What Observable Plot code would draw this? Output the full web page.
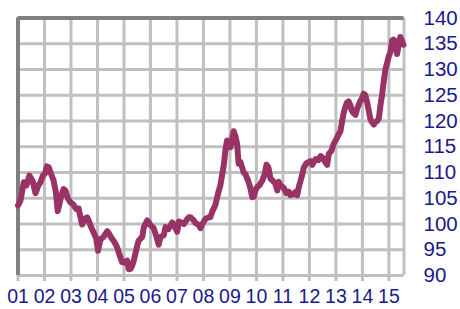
<!DOCTYPE html>
<html>
<head>
<meta charset="utf-8">
<script src="https://cdn.jsdelivr.net/npm/d3@7"></script>
<script src="https://cdn.jsdelivr.net/npm/@observablehq/plot@0.6"></script>
<style>
  html, body { margin: 0; padding: 0; background: #fff; }
  #chart { width: 460px; height: 309px; }
</style>
</head>
<body>
<div id="chart"></div>
<script>
// Decimal years and index values
const years = [
  2001.00, 2001.09, 2001.22, 2001.32, 2001.43, 2001.55, 2001.66, 2001.77, 2001.85, 2001.94,
  2002.02, 2002.09, 2002.16, 2002.25, 2002.34, 2002.43, 2002.50, 2002.57, 2002.63, 2002.72,
  2002.79, 2002.88, 2002.98, 2003.07, 2003.20, 2003.29, 2003.36, 2003.42, 2003.51, 2003.61,
  2003.68, 2003.76, 2003.85, 2003.95, 2004.02, 2004.11, 2004.23, 2004.37, 2004.45, 2004.55,
  2004.64, 2004.74, 2004.83, 2004.93, 2005.02, 2005.12, 2005.18, 2005.25, 2005.31, 2005.37,
  2005.50, 2005.56, 2005.69, 2005.75, 2005.88, 2006.00, 2006.12, 2006.23, 2006.31, 2006.38,
  2006.50, 2006.57, 2006.68, 2006.82, 2006.91, 2007.01, 2007.07, 2007.20, 2007.26, 2007.38,
  2007.45, 2007.51, 2007.62, 2007.70, 2007.82, 2007.89, 2007.96, 2008.08, 2008.19, 2008.26,
  2008.34, 2008.45, 2008.58, 2008.64, 2008.71, 2008.77, 2008.83, 2008.89, 2008.95, 2009.02,
  2009.08, 2009.14, 2009.21, 2009.27, 2009.33, 2009.40, 2009.46, 2009.52, 2009.58, 2009.68,
  2009.77, 2009.84, 2009.90, 2009.96, 2010.03, 2010.11, 2010.22, 2010.30, 2010.38, 2010.45,
  2010.53, 2010.60, 2010.72, 2010.79, 2010.84, 2010.91, 2011.03, 2011.13, 2011.22, 2011.28,
  2011.41, 2011.47, 2011.54, 2011.60, 2011.66, 2011.72, 2011.79, 2011.89, 2012.04, 2012.11,
  2012.23, 2012.34, 2012.42, 2012.51, 2012.60, 2012.67, 2012.73, 2012.83, 2012.92, 2013.02,
  2013.11, 2013.17, 2013.23, 2013.29, 2013.36, 2013.42, 2013.48, 2013.55, 2013.60, 2013.67,
  2013.74, 2013.80, 2013.89, 2013.99, 2014.05, 2014.11, 2014.17, 2014.24, 2014.30, 2014.36,
  2014.43, 2014.49, 2014.56, 2014.62, 2014.68, 2014.74, 2014.80, 2014.87, 2014.93, 2014.99,
  2015.06, 2015.12, 2015.17, 2015.25, 2015.31, 2015.36, 2015.43, 2015.50, 2015.55
];
const values = [
  103.6, 104.5, 108.1, 107.5, 109.4, 108.4, 106.0, 107.5, 108.1, 109.4,
  109.8, 111.2, 111.0, 109.7, 108.5, 106.2, 102.5, 104.0, 105.4, 106.8,
  106.5, 105.0, 104.2, 103.9, 102.9, 103.0, 101.3, 99.9, 101.0, 101.3,
  100.5, 99.4, 98.4, 97.2, 94.8, 97.0, 97.5, 98.6, 98.0, 97.1,
  96.5, 95.5, 94.0, 92.6, 92.5, 92.9, 91.2, 91.3, 91.9, 92.9,
  95.8, 96.8, 97.5, 99.4, 100.7, 99.8, 99.2, 97.5, 96.0, 97.5,
  97.8, 99.4, 99.0, 100.3, 99.6, 98.5, 100.5, 100.2, 100.0, 100.9,
  101.3, 101.3, 100.8, 100.2, 99.8, 99.2, 100.0, 101.0, 101.3, 101.3,
  102.5, 103.7, 106.5, 107.5, 109.7, 111.5, 114.3, 116.2, 115.0, 114.9,
  116.5, 118.0, 117.0, 115.5, 111.7, 112.0, 111.0, 110.0, 109.7, 108.5,
  107.0, 105.2, 105.3, 106.5, 107.2, 107.5, 108.4, 109.5, 111.5, 111.0,
  108.8, 108.5, 107.8, 106.5, 108.2, 107.5, 107.0, 106.0, 106.3, 105.6,
  105.8, 106.2, 105.6, 107.2, 108.3, 109.4, 111.0, 111.8, 112.2, 111.5,
  112.6, 112.4, 113.2, 112.8, 112.0, 111.5, 113.6, 114.2, 115.6, 116.5,
  117.5, 118.0, 119.8, 121.5, 122.8, 123.6, 123.8, 123.0, 122.0, 121.5,
  121.2, 122.4, 123.5, 124.5, 125.3, 125.0, 123.8, 122.0, 120.4, 119.8,
  119.3, 119.8, 120.0, 120.5, 123.0, 125.0, 127.5, 130.0, 131.2, 132.5,
  133.4, 135.6, 135.8, 135.5, 133.0, 134.5, 136.3, 135.5, 134.8
];
const xTicks = [2001, 2002, 2003, 2004, 2005, 2006, 2007, 2008, 2009, 2010, 2011, 2012, 2013, 2014, 2015];
const xTickLabels = ["01","02","03","04","05","06","07","08","09","10","11","12","13","14","15"];
const yTicks = [90, 95, 100, 105, 110, 115, 120, 125, 130, 135, 140];
const xDomain = [2001, 2015.57];
const yDomain = [90, 140];

const data = years.map((t, i) => ({t, v: values[i]}));
const labelOf = new Map(xTicks.map((t, i) => [t, xTickLabels[i]]));

const gridColor = "#c0c0c0";
const textColor = "#1a1a8a";

const chart = Plot.plot({
  width: 460,
  height: 309,
  marginTop: 17.5,
  marginBottom: 34,
  marginLeft: 17.5,
  marginRight: 56.5,
  style: {fontFamily: "Liberation Sans, Arial, sans-serif", background: "#fff", overflow: "visible"},
  x: {domain: xDomain, axis: null, label: null},
  y: {domain: yDomain, axis: null, label: null},
  marks: [
    // gridlines
    Plot.ruleX(xTicks.slice(1), {stroke: gridColor, strokeWidth: 3}),
    Plot.ruleY(yTicks.slice(1, -1), {stroke: gridColor, strokeWidth: 3}),
    // tick marks below the frame
    Plot.axisX({ticks: xTicks, tickSize: 6, stroke: gridColor, strokeWidth: 3, tickFormat: () => "", anchor: "bottom", label: null}),
    // frame: right & bottom light, left & top dark
    Plot.ruleX([xDomain[1]], {stroke: gridColor, strokeWidth: 3}),
    Plot.ruleY([yDomain[0]], {stroke: gridColor, strokeWidth: 3}),
    Plot.ruleX([xDomain[0]], {stroke: "#808080", strokeWidth: 4}),
    Plot.ruleY([yDomain[1]], {stroke: "#808080", strokeWidth: 4}),
    // series
    Plot.line(data, {x: "t", y: "v", stroke: "#993366", strokeWidth: 6, strokeLinejoin: "round", strokeLinecap: "round"}),
    // axis labels
    Plot.axisX({ticks: xTicks, tickSize: 0, tickPadding: 14, anchor: "bottom", fontSize: 19.5, label: null,
      color: textColor, tickFormat: d => labelOf.get(d)}),
    Plot.axisY({ticks: yTicks, tickSize: 0, tickPadding: 19.5, anchor: "right", fontSize: 20.5, label: null,
      color: textColor, textAnchor: "start", tickFormat: d => String(d)})
  ]
});
document.getElementById("chart").appendChild(chart);
</script>
</body>
</html>
